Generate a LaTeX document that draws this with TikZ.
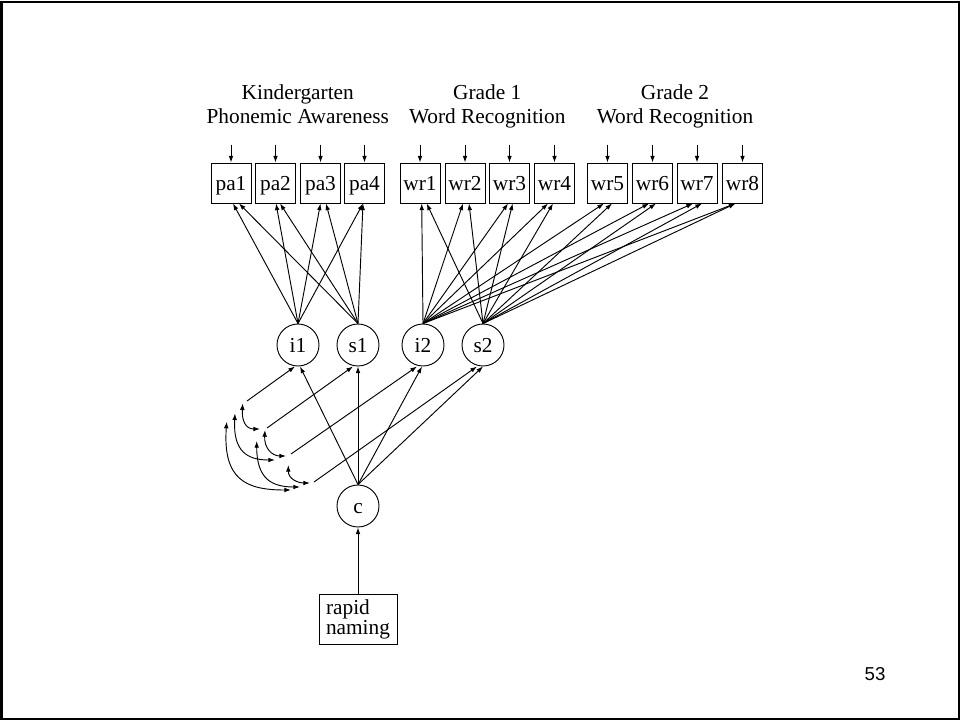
\documentclass[tikz,border=0pt]{standalone}
\usepackage{fontspec}
\setmainfont{Liberation Serif}
\newfontfamily\pagenumfont{Liberation Sans}
\usetikzlibrary{arrows.meta,calc}

\begin{document}
\begin{tikzpicture}[x=0.75pt,y=-0.75pt,
  font=\fontsize{16}{17.25}\selectfont,
  every node/.style={inner sep=0pt},
  link/.style={line width=0.7pt, -{Latex[length=5pt,width=3.5pt]}},
  bilink/.style={line width=0.7pt, {Latex[length=5pt,width=3.5pt]}-{Latex[length=5pt,width=3.5pt]}},
  obs/.style={draw, line width=0.7pt, minimum width=30pt, minimum height=30pt,
              text height=12pt, text depth=1.5pt},
  lat/.style={draw, circle, line width=0.7pt, minimum size=31.5pt,
              text height=12pt, text depth=1.5pt},
  heading/.style={align=center, anchor=north, font=\fontsize{16}{18.5}\selectfont}]

% page and frame
\useasboundingbox (0,0) rectangle (961,721);
\draw[line width=1.5pt] (1.5,2) rectangle (958.5,718.5);

% group headings
\node[heading] (t1) at (297.75,84) {Kindergarten\\Phonemic Awareness};
\node[heading] (t2) at (487.25,84) {Grade 1\\Word Recognition};
\node[heading] (t3) at (675,84) {Grade 2\\Word Recognition};

% observed indicators with residual arrows
\foreach \n/\x in {pa1/231, pa2/275.5, pa3/320.5, pa4/364.5,
                   wr1/420, wr2/465, wr3/509.5, wr4/554.5,
                   wr5/607.5, wr6/652.5, wr7/697, wr8/742.5} {
  \node[obs] (\n) at (\x,183) {\n};
  \coordinate (e\n) at ($(\n.north)+(0,-18)$);
  \draw[link] (e\n) -- (\n.north);
}

% growth factors
\node[lat] (i1) at (298,345) {i1};
\node[lat] (s1) at (358,345) {s1};
\node[lat] (i2) at (423,345) {i2};
\node[lat] (s2) at (483,345) {s2};

% covariate
\node[lat] (c) at (358,506) {c};
\node[draw, line width=0.7pt, minimum width=58.5pt, minimum height=37.5pt,
      align=left, font=\fontsize{16}{15}\selectfont] (rn) at (358,619) {rapid\\naming};
\draw[link] (rn.north) -- (c.south);

% factor loadings, kindergarten
\foreach \t/\a/\b in {pa1/2/8, pa2/0.5/4.5, pa3/0/5.5, pa4/-1.5/-1.5} {
  \draw[link] (i1.north) -- ($(\t.south)+(\a,0)$);
  \draw[link] (s1.north) -- ($(\t.south)+(\b,0)$);
}
% factor loadings, grades 1 and 2
\foreach \t/\a/\b in {wr1/1.7/6.7, wr2/-2/4, wr3/-1.5/3.2, wr4/-6.5/-1.5,
                      wr5/-3.5/4.5, wr6/-3.5/3.5, wr7/-4/5, wr8/-7/-7} {
  \draw[link] (i2.north) -- ($(\t.south)+(\a,0)$);
  \draw[link] (s2.north) -- ($(\t.south)+(\b,0)$);
}

% regressions on c
\draw[link] (c.north) -- ($(i1.south)+(2,0)$);
\draw[link] (c.north) -- (s1.south);
\draw[link] (c.north) -- ($(i2.south)+(-1,0)$);
\draw[link] (c.north) -- (s2.south);

% factor residuals
\coordinate (r1) at (247,401);
\coordinate (r2) at (267,428);
\coordinate (r3) at (291,454);
\coordinate (r4) at (314,482);
\draw[link] (r1) -- ($(i1.south)+(-3,0)$);
\draw[link] (r2) -- ($(s1.south)+(-5,0)$);
\draw[link] (r3) -- ($(i2.south)+(-6,0)$);
\draw[link] (r4) -- ($(s2.south)+(-6,0)$);

% residual covariances
\coordinate (a1) at ($(r1)+(-4.3,2.3)$);
\coordinate (b1) at ($(r1)+(-12,12.3)$);
\coordinate (c1) at ($(r1)+(-20.3,20.7)$);
\coordinate (a2) at ($(r2)+(-7,1)$);
\coordinate (d1) at ($(r2)+(-2,2)$);
\coordinate (f1e) at ($(r2)+(-10.3,13)$);
\coordinate (b2) at ($(r3)+(-16,6)$);
\coordinate (d2) at ($(r3)+(-5,2)$);
\coordinate (g1) at ($(r3)+(-2.7,11)$);
\coordinate (c2) at ($(r4)+(-23,8)$);
\coordinate (f2e) at ($(r4)+(-14,5)$);
\coordinate (g2) at ($(r4)+(-4,1)$);
\draw[bilink] (a1) .. controls +(-1,18) and +(-14,0) .. (a2);
\draw[bilink] (b1) .. controls +(-2,38) and +(-28,0) .. (b2);
\draw[bilink] (c1) .. controls +(-4,58) and +(-45,0) .. (c2);
\draw[bilink] (d1) .. controls +(-1,18) and +(-14,0) .. (d2);
\draw[bilink] (f1e) .. controls +(0,38) and +(-28,0) .. (f2e);
\draw[bilink] (g1) .. controls +(0,14) and +(-12,0) .. (g2);

% slide number
\node[font=\pagenumfont\fontsize{14}{16}\selectfont] (pg) at (875,674) {53};
\end{tikzpicture}
\end{document}
